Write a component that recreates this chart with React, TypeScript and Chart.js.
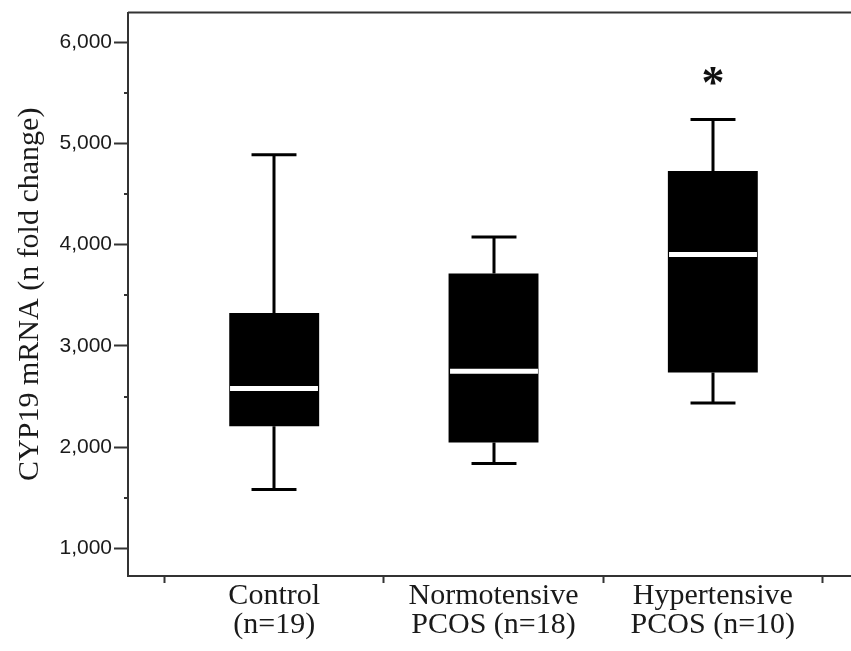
import React, { useEffect, useRef } from 'react';
import { Chart, registerables } from 'chart.js';

Chart.register(...registerables);

// ---- data ----
const categories: string[][] = [
  ['Control', '(n=19)'],
  ['Normotensive', 'PCOS (n=18)'],
  ['Hypertensive', 'PCOS (n=10)'],
];
const positions = [1, 2, 3];
const whiskerLow = [1582, 1839, 2437];
const q1 = [2207, 2046, 2737];
const median = [2580, 2750, 3902];
const q3 = [3326, 3715, 4728];
const whiskerHigh = [4889, 4076, 5235];
const significance = ['', '', '*'];
const significanceValue = [0, 0, 5643];
const yTicks = [1000, 2000, 3000, 4000, 5000, 6000];
const yMinorTicks = [1500, 2500, 3500, 4500, 5500];
const xTicks = [0.5, 1, 1.5, 2, 2.5, 3, 3.5];
const yTitle = 'CYP19 mRNA (n fold change)';

const AXIS = '#333333';
const TEXT = '#1a1a1a';
const SERIF = '"Liberation Serif", "Times New Roman", serif';
const SANS = '"Liberation Sans", Arial, sans-serif';

const boxPlugin = {
  id: 'boxExtras',
  afterDatasetsDraw(chart: any) {
    const { ctx, chartArea, scales } = chart;
    const x = scales.x;
    const y = scales.y;
    const meta = chart.getDatasetMeta(0);
    ctx.save();
    // top frame line
    ctx.strokeStyle = AXIS;
    ctx.lineWidth = 2;
    ctx.beginPath();
    ctx.moveTo(chartArea.left, chartArea.top);
    ctx.lineTo(chartArea.right, chartArea.top);
    ctx.stroke();
    // minor y ticks
    ctx.beginPath();
    yMinorTicks.forEach((v) => {
      const py = Math.round(y.getPixelForValue(v));
      ctx.moveTo(chartArea.left - 4, py);
      ctx.lineTo(chartArea.left, py);
    });
    ctx.stroke();

    positions.forEach((p, i) => {
      const el = meta.data[i];
      const cx = Math.round(x.getPixelForValue(p));
      const w = el ? el.width : 90;
      const yHi = y.getPixelForValue(whiskerHigh[i]);
      const yQ3 = y.getPixelForValue(q3[i]);
      const yQ1 = y.getPixelForValue(q1[i]);
      const yLo = y.getPixelForValue(whiskerLow[i]);
      const yMed = y.getPixelForValue(median[i]);
      ctx.strokeStyle = '#000';
      ctx.lineWidth = 3;
      ctx.beginPath();
      ctx.moveTo(cx, yHi);
      ctx.lineTo(cx, yQ3);
      ctx.moveTo(cx, yQ1);
      ctx.lineTo(cx, yLo);
      ctx.stroke();
      ctx.beginPath();
      ctx.moveTo(cx - w / 4, yHi);
      ctx.lineTo(cx + w / 4, yHi);
      ctx.moveTo(cx - w / 4, yLo);
      ctx.lineTo(cx + w / 4, yLo);
      ctx.stroke();
      // median
      ctx.strokeStyle = '#ffffff';
      ctx.lineWidth = 5;
      ctx.beginPath();
      ctx.moveTo(cx - w / 2 + 1, yMed);
      ctx.lineTo(cx + w / 2 - 1, yMed);
      ctx.stroke();
      // significance marker
      if (significance[i]) {
        ctx.fillStyle = '#111';
        ctx.font = `bold 46px ${SERIF}`;
        ctx.textAlign = 'center';
        ctx.textBaseline = 'middle';
        ctx.fillText(significance[i], cx, y.getPixelForValue(significanceValue[i]) + 8);
      }
    });
    ctx.restore();
  },
};

export default function App() {
  const ref = useRef<HTMLCanvasElement | null>(null);
  useEffect(() => {
    if (!ref.current) return;
    const chart = new Chart(ref.current, {
      type: 'bar',
      data: {
        datasets: [
          {
            data: positions.map((p, i) => ({ x: p, y: [q1[i], q3[i]] })) as any,
            backgroundColor: '#000',
            borderColor: '#000',
            borderWidth: 0,
            borderSkipped: false,
            barPercentage: 0.82,
            categoryPercentage: 1,
          },
        ],
      },
      options: {
        animation: false,
        responsive: false,
        devicePixelRatio: 1,
        layout: { padding: { top: 12, right: 0, left: 0, bottom: 0 } },
        plugins: { legend: { display: false }, tooltip: { enabled: false } },
        scales: {
          x: {
            type: 'linear',
            offset: false,
            min: 1 / 3,
            max: 3.63,
            afterBuildTicks: (scale: any) => {
              scale.ticks = xTicks.map((v) => ({ value: v }));
            },
            afterFit: (scale: any) => {
              scale.height = 75;
            },
            border: { display: true, color: AXIS, width: 2 },
            grid: {
              offset: false,
              drawOnChartArea: false,
              drawTicks: true,
              tickLength: 7,
              tickWidth: 2,
              tickColor: (c: any) =>
                c.tick && Number.isInteger(c.tick.value) ? 'rgba(0,0,0,0)' : AXIS,
            },
            ticks: {
              autoSkip: false,
              maxRotation: 0,
              minRotation: 0,
              padding: -2,
              color: TEXT,
              font: { family: SERIF, size: 30, lineHeight: 0.98 },
              callback: (v: any) => {
                const n = Number(v);
                return Number.isInteger(n) ? categories[n - 1] : '';
              },
            },
          },
          y: {
            type: 'linear',
            min: 727,
            max: 6293,
            afterBuildTicks: (scale: any) => {
              scale.ticks = yTicks.map((v) => ({ value: v }));
            },
            afterFit: (scale: any) => {
              scale.width = 128;
            },
            border: { display: true, color: AXIS, width: 2 },
            grid: {
              drawOnChartArea: false,
              drawTicks: true,
              tickLength: 14,
              tickWidth: 2,
              tickColor: AXIS,
            },
            ticks: {
              padding: 2,
              color: TEXT,
              font: { family: SANS, size: 21, lineHeight: 1.0 },
              callback: (v: any) => Number(v).toLocaleString('en-US'),
            },
            title: {
              display: true,
              text: yTitle,
              color: TEXT,
              font: { family: SERIF, size: 30 },
              padding: { top: 12, bottom: 0 },
            },
          },
        },
      },
      plugins: [boxPlugin],
    } as any);
    return () => chart.destroy();
  }, []);
  return (
    <div style={{ position: 'fixed', left: 0, top: 0, width: 851, height: 651, background: '#fff' }}>
      <canvas ref={ref} width={851} height={651} style={{ display: 'block' }} />
    </div>
  );
}
